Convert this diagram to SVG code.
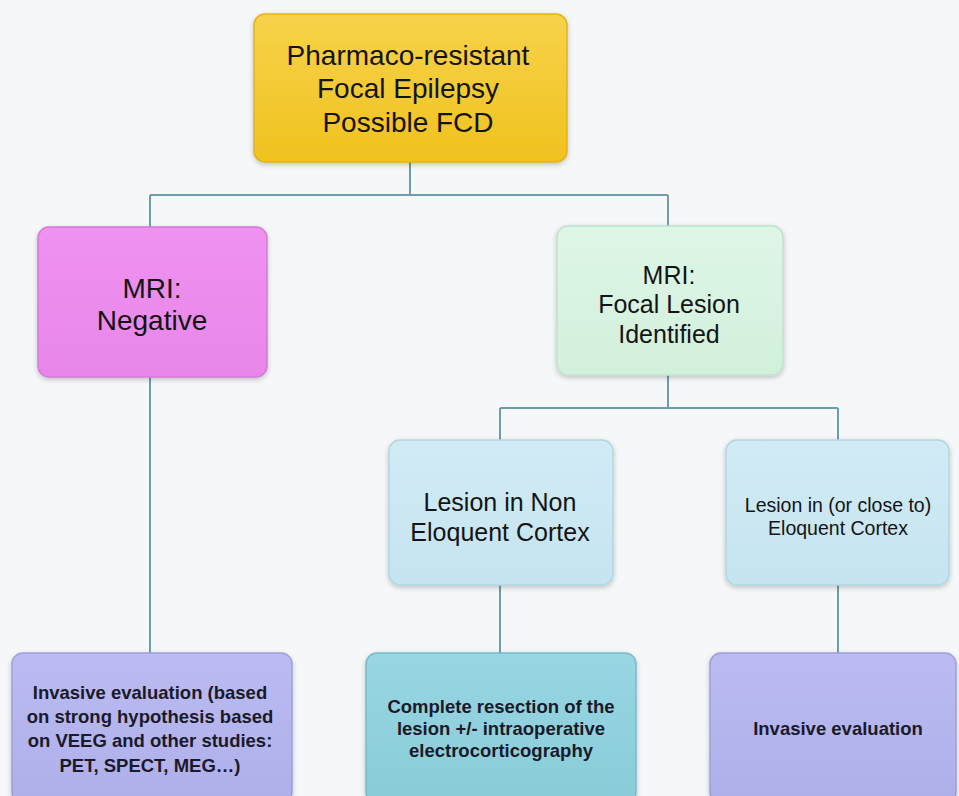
<svg xmlns="http://www.w3.org/2000/svg" width="959" height="796" viewBox="0 0 959 796">
<defs>
<filter id="sh" x="-10%" y="-10%" width="120%" height="125%">
<feDropShadow dx="0" dy="2" stdDeviation="2.5" flood-color="#000" flood-opacity="0.22"/>
</filter>
<linearGradient id="gY" x1="0" y1="0" x2="0" y2="1"><stop offset="0" stop-color="#F7D24A"/><stop offset="1" stop-color="#F0C21E"/></linearGradient>
<linearGradient id="gP" x1="0" y1="0" x2="0" y2="1"><stop offset="0" stop-color="#EF92F0"/><stop offset="1" stop-color="#E886EA"/></linearGradient>
<linearGradient id="gG" x1="0" y1="0" x2="0" y2="1"><stop offset="0" stop-color="#DEF6E6"/><stop offset="1" stop-color="#D2F0DC"/></linearGradient>
<linearGradient id="gB" x1="0" y1="0" x2="0" y2="1"><stop offset="0" stop-color="#D2EBF5"/><stop offset="1" stop-color="#C4E4F0"/></linearGradient>
<linearGradient id="gC" x1="0" y1="0" x2="0" y2="1"><stop offset="0" stop-color="#98D6E2"/><stop offset="1" stop-color="#88CCD8"/></linearGradient>
<linearGradient id="gL" x1="0" y1="0" x2="0" y2="1"><stop offset="0" stop-color="#BCBCF2"/><stop offset="1" stop-color="#AEAEEA"/></linearGradient>
</defs>
<style>
.box{filter:url(#sh);stroke-width:1.5}
.t{font-family:"Liberation Sans",Arial,sans-serif;fill:#141414;text-anchor:middle}
.big{font-size:28px}
.med{font-size:25px}
.sm{font-size:19.5px}
.b{font-weight:bold;font-size:18.5px;fill:#1a1a2a}
.con{stroke:#6E9CAC;stroke-width:2;fill:none}
</style>
<rect width="959" height="796" fill="#F6F7F8"/>
<g id="connectors">
<path class="con" d="M410 162 V195 M150 195 H668 M150 195 V227 M668 195 V226"/>
<path class="con" d="M150 377 V653"/>
<path class="con" d="M668 375 V408 M500 408 H838 M500 408 V440 M838 408 V440"/>
<path class="con" d="M500 585 V653 M838 585 V653"/>
</g>
<g id="n-top">
<rect class="box" x="254" y="14" width="313" height="148" rx="11" fill="url(#gY)" stroke="#E2B21A"/>
<text class="t big" x="408" y="65">Pharmaco-resistant</text>
<text class="t big" x="408" y="98">Focal Epilepsy</text>
<text class="t big" x="408" y="132">Possible FCD</text>
</g>
<g id="n-mri-neg">
<rect class="box" x="38" y="227" width="229" height="150" rx="11" fill="url(#gP)" stroke="#D878DA"/>
<text class="t big" x="152" y="298">MRI:</text>
<text class="t big" x="152" y="330">Negative</text>
</g>
<g id="n-mri-focal">
<rect class="box" x="557" y="226" width="226" height="149" rx="11" fill="url(#gG)" stroke="#BFE2CB"/>
<text class="t med" x="669" y="284">MRI:</text>
<text class="t med" x="669" y="313">Focal Lesion</text>
<text class="t med" x="669" y="343">Identified</text>
</g>
<g id="n-non-eloquent">
<rect class="box" x="389" y="440" width="224" height="145" rx="11" fill="url(#gB)" stroke="#B2D6E4"/>
<text class="t med" x="500" y="511">Lesion in Non</text>
<text class="t med" x="500" y="541">Eloquent Cortex</text>
</g>
<g id="n-eloquent">
<rect class="box" x="726" y="440" width="223" height="145" rx="11" fill="url(#gB)" stroke="#B2D6E4"/>
<text class="t sm" x="838" y="512">Lesion in (or close to)</text>
<text class="t sm" x="838" y="535">Eloquent Cortex</text>
</g>
<g id="n-invasive-left">
<rect class="box" x="12" y="653" width="280" height="150" rx="11" fill="url(#gL)" stroke="#9E9EDC"/>
<text class="t b" x="150" y="699">Invasive evaluation (based</text>
<text class="t b" x="150" y="723">on strong hypothesis based</text>
<text class="t b" x="150" y="747">on VEEG and other studies:</text>
<text class="t b" x="150" y="772">PET, SPECT, MEG…)</text>
</g>
<g id="n-resection">
<rect class="box" x="366" y="653" width="270" height="150" rx="11" fill="url(#gC)" stroke="#78BCC8"/>
<text class="t b" x="501" y="713">Complete resection of the</text>
<text class="t b" x="501" y="735">lesion +/- intraoperative</text>
<text class="t b" x="501" y="757">electrocorticography</text>
</g>
<g id="n-invasive-right">
<rect class="box" x="710" y="653" width="246" height="150" rx="11" fill="url(#gL)" stroke="#9E9EDC"/>
<text class="t b" x="838" y="735">Invasive evaluation</text>
</g>
</svg>
